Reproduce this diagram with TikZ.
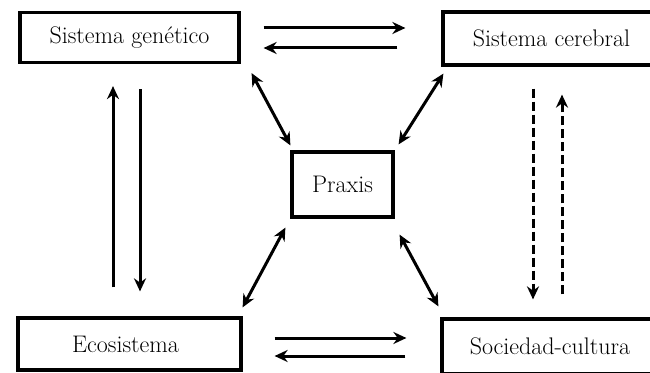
\documentclass[tikz,border=0pt]{standalone}
\usepackage{tikz}
\usetikzlibrary{arrows.meta,positioning}

\begin{document}
\begin{tikzpicture}[x=1pt,y=1pt,on grid,
  sys/.style={draw,line width=3.2pt,inner sep=0pt,font=\fontsize{24}{28}\selectfont},
  arr/.style={line width=3pt,-{Stealth[length=13pt,width=12pt]}},
  biarr/.style={line width=3pt,{Stealth[length=13pt,width=12pt]}-{Stealth[length=13pt,width=12pt]}},
  dashline/.style={dash pattern=on 9pt off 4pt}]
\useasboundingbox (0,0) rectangle (650,372);
\node[sys,minimum width=101pt,minimum height=65pt] (prax) at (342.5,187.5) {Praxis};
\node[sys,minimum width=219pt,minimum height=50pt] (gen) [above left=147pt and 213pt of prax] {Sistema gen\'etico};
\node[sys,minimum width=209pt,minimum height=53pt] (cer) [above right=146pt and 205pt of prax] {\hspace*{8pt}Sistema cerebral};
\node[sys,minimum width=223pt,minimum height=52pt] (eco) [below left=159.5pt and 213pt of prax] {Ecosistema\hspace*{8pt}};
\node[sys,minimum width=210pt,minimum height=55pt] (soc) [below right=162pt and 204.5pt of prax] {\hspace*{6pt}Sociedad-cultura};
% genetico <-> cerebral
\draw[arr,shorten <=23pt,shorten >=36pt] ([yshift=9.5pt]gen.east) -- ([yshift=9.5pt]gen.east -| cer.west);
\draw[arr,shorten <=44pt,shorten >=23pt] ([yshift=-10.5pt]gen.east -| cer.west) -- ([yshift=-10.5pt]gen.east);
% ecosistema <-> sociedad
\draw[arr,shorten <=32pt,shorten >=34pt] ([yshift=6pt]eco.east) -- ([yshift=6pt]eco.east -| soc.west);
\draw[arr,shorten <=35pt,shorten >=32pt] ([yshift=-12pt]eco.east -| soc.west) -- ([yshift=-12pt]eco.east);
% genetico <-> ecosistema
\draw[arr,shorten <=29pt,shorten >=22pt] ([xshift=-16.5pt]gen.south |- eco.north) -- ([xshift=-16.5pt]gen.south);
\draw[arr,shorten <=25pt,shorten >=25pt] ([xshift=10.5pt]gen.south) -- ([xshift=10.5pt]gen.south |- eco.north);
% cerebral <-> sociedad
\draw[arr,dashline,shorten <=22pt,shorten >=18pt] ([xshift=-14.5pt]cer.south) -- ([xshift=-14.5pt]cer.south |- soc.north);
\draw[arr,dashline,shorten <=23pt,shorten >=28pt] ([xshift=14.5pt]cer.south |- soc.north) -- ([xshift=14.5pt]cer.south);
% praxis
\draw[biarr] ([shift={(11pt,-9pt)}]gen.south east) -- ([shift={(0pt,5pt)}]prax.north west);
\draw[biarr] ([shift={(2pt,-7pt)}]cer.south west) -- ([shift={(4pt,6pt)}]prax.north east);
\draw[biarr] ([shift={(0pt,9pt)}]eco.north east) -- ([shift={(-5pt,-9pt)}]prax.south west);
\draw[biarr] ([shift={(-2pt,11pt)}]soc.north west) -- ([shift={(5pt,-16pt)}]prax.south east);
\end{tikzpicture}
\end{document}
